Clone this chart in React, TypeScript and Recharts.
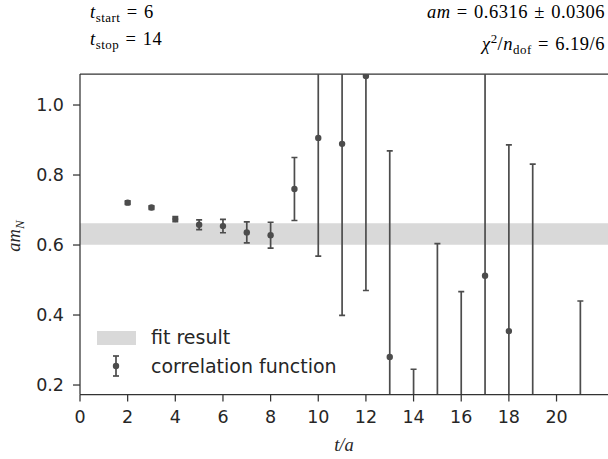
import React from 'react';
import { ScatterChart, Scatter, XAxis, YAxis, ErrorBar, ReferenceArea, ReferenceLine } from 'recharts';

// ---- data ----
const tValues = [2, 3, 4, 5, 6, 7, 8, 9, 10, 11, 12, 13, 14, 15, 16, 17, 18, 19, 21];
const amValues = [0.721, 0.707, 0.674, 0.658, 0.654, 0.636, 0.628, 0.76, 0.906, 0.889, 1.083, 0.28, 0.05, 0.0, 0.05, 0.512, 0.354, 0.1, 0.05];
const amErrors = [0.005, 0.005, 0.007, 0.014, 0.019, 0.03, 0.037, 0.09, 0.338, 0.49, 0.613, 0.589, 0.195, 0.604, 0.417, 0.65, 0.532, 0.731, 0.39];
const fitValue = 0.6316;
const fitError = 0.0306;
const xTicks = [0, 2, 4, 6, 8, 10, 12, 14, 16, 18, 20];
const yTicks = [0.2, 0.4, 0.6, 0.8, 1.0];
const xDomain = [0, 22.16];
const yDomain = [0.1729, 1.0886];

const data = tValues.map((t, i) => ({ t, am: amValues[i], err: amErrors[i] }));

// ---- layout ----
const W = 608;
const H = 459;
const M = { top: 74, right: 0, bottom: 34.5, left: 0 };
const Y_AXIS_W = 80;
const X_AXIS_H = 30;
const PLOT = {
  x: M.left + Y_AXIS_W,
  y: M.top,
  w: W - M.left - M.right - Y_AXIS_W,
  h: H - M.top - M.bottom - X_AXIS_H,
};

const MARK = '#4c4c4c';
const AXIS = '#333333';
const TEXT = '#262626';
const SERIF = '"Liberation Serif", "DejaVu Serif", serif';
const SANS = '"DejaVu Sans", sans-serif';

const Dot = (props: any) => {
  const { cx, cy } = props;
  if (cx == null || cy == null) return null;
  return <circle cx={cx} cy={cy} r={3.2} fill={MARK} />;
};

const sub = { fontSize: '0.7em', verticalAlign: '-0.3em', fontStyle: 'normal' } as React.CSSProperties;
const eq = { margin: '0 0.34em' } as React.CSSProperties;
const pm = { margin: '0 0.34em' } as React.CSSProperties;
const header = {
  position: 'absolute',
  fontFamily: SERIF,
  fontSize: 18.5,
  letterSpacing: '0.5px',
  color: '#000',
  lineHeight: '24px',
  whiteSpace: 'nowrap',
} as React.CSSProperties;

export default function App() {
  return (
    <div style={{ position: 'absolute', left: 0, top: 0, width: W, height: H, background: '#fff', overflow: 'hidden' }}>
      <style>{`.recharts-errorBar, .recharts-errorBars { clip-path: url(#plot-area-clip); }`}</style>
      <svg width={0} height={0} style={{ position: 'absolute' }}>
        <defs>
          <clipPath id="plot-area-clip" clipPathUnits="userSpaceOnUse">
            <rect x={PLOT.x} y={PLOT.y} width={PLOT.w} height={PLOT.h} />
          </clipPath>
        </defs>
      </svg>
      <ScatterChart width={W} height={H} margin={M}>
        <XAxis
          type="number"
          dataKey="t"
          domain={xDomain}
          ticks={xTicks}
          allowDataOverflow
          height={X_AXIS_H}
          tickSize={7}
          tickMargin={9}
          axisLine={{ stroke: AXIS, strokeWidth: 1.25 }}
          tickLine={{ stroke: AXIS, strokeWidth: 1.25 }}
          tick={{ fontSize: 17.5, fill: TEXT, fontFamily: SANS }}
        />
        <YAxis
          type="number"
          dataKey="am"
          domain={yDomain}
          ticks={yTicks}
          allowDataOverflow
          width={Y_AXIS_W}
          tickSize={7}
          tickMargin={9}
          tickFormatter={(v: number) => v.toFixed(1)}
          axisLine={{ stroke: AXIS, strokeWidth: 1.25 }}
          tickLine={{ stroke: AXIS, strokeWidth: 1.25 }}
          tick={{ fontSize: 17.5, fill: TEXT, fontFamily: SANS }}
        />
        <ReferenceArea y1={fitValue - fitError} y2={fitValue + fitError} fill="#d9d9d9" fillOpacity={1} stroke="none" />
        <ReferenceLine y={yDomain[1]} stroke={AXIS} strokeWidth={1.25} />
        <Scatter data={data} isAnimationActive={false} shape={Dot}>
          <ErrorBar dataKey="err" direction="y" width={3} stroke={MARK} strokeWidth={1.7} isAnimationActive={false} />
        </Scatter>
      </ScatterChart>

      {/* header annotations */}
      <div style={{ ...header, left: 90, top: 0 }}>
        <i>t</i><span style={sub}>start</span><span style={eq}>=</span>6
      </div>
      <div style={{ ...header, left: 90, top: 27 }}>
        <i>t</i><span style={sub}>stop</span><span style={eq}>=</span>14
      </div>
      <div style={{ ...header, right: 3, top: 0, textAlign: 'right' }}>
        <i>am</i><span style={eq}>=</span>0.6316<span style={pm}>±</span>0.0306
      </div>
      <div style={{ ...header, right: 3, top: 27, textAlign: 'right' }}>
        <i>χ</i><sup style={{ fontSize: '0.7em' }}>2</sup>/<i>n</i><span style={sub}>dof</span><span style={eq}>=</span>6.19/6
      </div>

      {/* axis labels */}
      <div style={{ position: 'absolute', left: 324, width: 40, top: 435, textAlign: 'center', fontFamily: SERIF, fontSize: 18.5, color: TEXT, fontStyle: 'italic' }}>
        t/a
      </div>
      <div style={{ position: 'absolute', left: 16, top: 236, width: 0, height: 0 }}>
        <div style={{ position: 'absolute', transform: 'translate(-50%, -50%) rotate(-90deg)', fontFamily: SERIF, fontSize: 18.5, color: TEXT, whiteSpace: 'nowrap', left: 0, top: 0 }}>
          <i>am</i><span style={{ fontSize: '0.7em', verticalAlign: '-0.3em', fontStyle: 'italic' }}>N</span>
        </div>
      </div>

      {/* legend */}
      <div style={{ position: 'absolute', left: 97, top: 331, width: 39, height: 14, background: '#d9d9d9' }} />
      <div style={{ position: 'absolute', left: 151, top: 324, fontFamily: SANS, fontSize: 19, color: TEXT, lineHeight: '26px', whiteSpace: 'nowrap' }}>fit result</div>
      <svg style={{ position: 'absolute', left: 108, top: 354 }} width={16} height={24}>
        <line x1={8} x2={8} y1={2} y2={22} stroke={MARK} strokeWidth={1.7} />
        <line x1={5} x2={11} y1={2} y2={2} stroke={MARK} strokeWidth={1.7} />
        <line x1={5} x2={11} y1={22} y2={22} stroke={MARK} strokeWidth={1.7} />
        <circle cx={8} cy={12} r={3.2} fill={MARK} />
      </svg>
      <div style={{ position: 'absolute', left: 151, top: 353, fontFamily: SANS, fontSize: 19, color: TEXT, lineHeight: '26px', whiteSpace: 'nowrap' }}>correlation function</div>
    </div>
  );
}
